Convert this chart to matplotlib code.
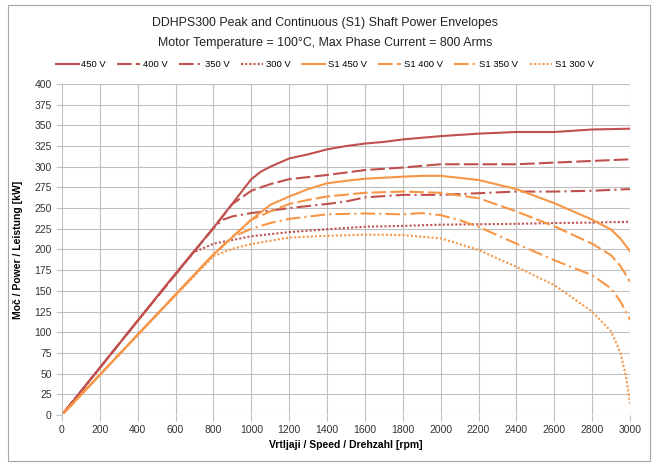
import matplotlib
matplotlib.use('Agg')
import matplotlib.pyplot as plt
from matplotlib.patches import Rectangle

plt.rcParams['font.family'] = ['Liberation Sans', 'DejaVu Sans']

red = '#C0504D'
orange = '#F79646'

# peak curves (rpm, kW)
rpm_450 = [10, 200, 400, 600, 800, 1000, 1050, 1100, 1200, 1300, 1400, 1500, 1600, 1700, 1800, 2000, 2200, 2400, 2600, 2800, 3000]
kw_450 = [3, 57, 114, 171, 226, 285, 294, 300, 310, 315, 321, 325, 328, 330, 333, 337, 340, 342, 342, 345, 346]

rpm_400 = [10, 400, 800, 900, 1000, 1100, 1200, 1400, 1600, 1800, 2000, 2200, 2400, 2600, 2800, 3000]
kw_400 = [3, 114, 226, 255, 271, 279, 285, 290, 296, 299, 303, 303, 303, 305, 307, 309]

rpm_350 = [10, 400, 800, 850, 900, 1000, 1200, 1400, 1500, 1600, 1800, 2000, 2200, 2400, 2600, 2800, 3000]
kw_350 = [3, 114, 226, 236, 240, 244, 250, 255, 258, 263, 266, 266, 268, 270, 270, 271, 273]

rpm_300 = [10, 400, 690, 800, 1000, 1200, 1400, 1600, 1800, 2000, 2200, 2400, 2600, 2800, 3000]
kw_300 = [3, 114, 196, 207, 216, 221, 224.5, 227.5, 228.5, 230, 230.5, 231, 232, 232.5, 233.5]

# continuous (S1) curves
rpm_s1_450 = [10, 400, 800, 1000, 1100, 1200, 1300, 1400, 1500, 1600, 1800, 1900, 2000, 2200, 2400, 2600, 2800, 2900, 2950, 3000]
kw_s1_450 = [2.5, 97, 194, 236, 254, 264, 273, 280, 283, 285.5, 288, 289, 289, 284, 273, 256, 236, 224, 213, 198]

rpm_s1_400 = [10, 400, 800, 1000, 1100, 1200, 1300, 1400, 1600, 1800, 2000, 2200, 2400, 2600, 2800, 2900, 2950, 3000]
kw_s1_400 = [2.5, 97, 194, 236, 246, 255, 260, 264, 268.5, 270, 268.5, 262, 246, 228, 207, 193, 180, 161]

rpm_s1_350 = [10, 400, 800, 900, 1000, 1100, 1200, 1400, 1600, 1800, 1900, 2000, 2100, 2200, 2400, 2600, 2800, 2900, 2950, 3000]
kw_s1_350 = [2.5, 97, 194, 215, 225, 232, 237, 242.5, 243.5, 242.5, 244, 241.5, 235.5, 227.5, 207, 187, 169, 153, 137, 115]

rpm_s1_300 = [10, 400, 800, 900, 1000, 1200, 1400, 1600, 1800, 2000, 2200, 2400, 2600, 2800, 2900, 2950, 2980, 3000]
kw_s1_300 = [2.5, 97, 192, 201, 206.5, 214.5, 216.5, 218, 217.5, 213.5, 199.5, 179, 157, 125, 101, 75, 45, 14]

dash = (0, (7, 2))
dashdot = (0, (7, 2, 1, 2))
dot = (0, (1, 1))

fig = plt.figure(figsize=(6.54, 4.63), dpi=100)
ax = fig.add_axes([0.0948, 0.1037, 0.8685, 0.7149])

lw = 1.5
ax.plot(rpm_450, kw_450, color=red, lw=lw, ls='-', label='450 V')
ax.plot(rpm_400, kw_400, color=red, lw=lw, ls=dash, label='400 V')
ax.plot(rpm_350, kw_350, color=red, lw=lw, ls=dashdot, label='350 V')
ax.plot(rpm_300, kw_300, color=red, lw=lw, ls=dot, label='300 V')
ax.plot(rpm_s1_450, kw_s1_450, color=orange, lw=lw, ls='-', label='S1 450 V')
ax.plot(rpm_s1_400, kw_s1_400, color=orange, lw=lw, ls=dash, label='S1 400 V')
ax.plot(rpm_s1_350, kw_s1_350, color=orange, lw=lw, ls=dashdot, label='S1 350 V')
ax.plot(rpm_s1_300, kw_s1_300, color=orange, lw=lw, ls=dot, label='S1 300 V')

ax.set_xlim(0, 3000)
ax.set_ylim(0, 400)
ax.set_xticks(range(0, 3001, 200))
ax.set_yticks(range(0, 401, 25))
ax.grid(True, color='#BFBFBF', lw=0.8)
ax.set_axisbelow(True)
for s in ax.spines.values():
    s.set_visible(False)
ax.tick_params(labelsize=7.5, colors='#BFBFBF', labelcolor='#333333', length=4, width=0.8)

ax.set_xlabel('Vrtljaji / Speed / Drehzahl [rpm]', fontsize=7.5, fontweight='bold', labelpad=3)
ax.set_ylabel('Moč / Power / Leistung [kW]', fontsize=7.5, fontweight='bold', labelpad=8)

fig.text(0.497, 0.951, 'DDHPS300 Peak and Continuous (S1) Shaft Power Envelopes', ha='center', va='center',
         fontsize=8.9, color='#222222')
fig.text(0.497, 0.908, 'Motor Temperature = 100°C, Max Phase Current = 800 Arms', ha='center', va='center',
         fontsize=8.9, color='#222222')

fig.legend(loc='center', bbox_to_anchor=(0.497, 0.86), ncol=8, frameon=False, fontsize=6.8,
           handlelength=2.4, handletextpad=0.3, columnspacing=1.2)

fig.add_artist(Rectangle((0.0122, 0.0043), 0.9817, 0.9847, transform=fig.transFigure,
                         fill=False, ec='#A6A6A6', lw=0.8))

fig.savefig('out.png', dpi=100)
